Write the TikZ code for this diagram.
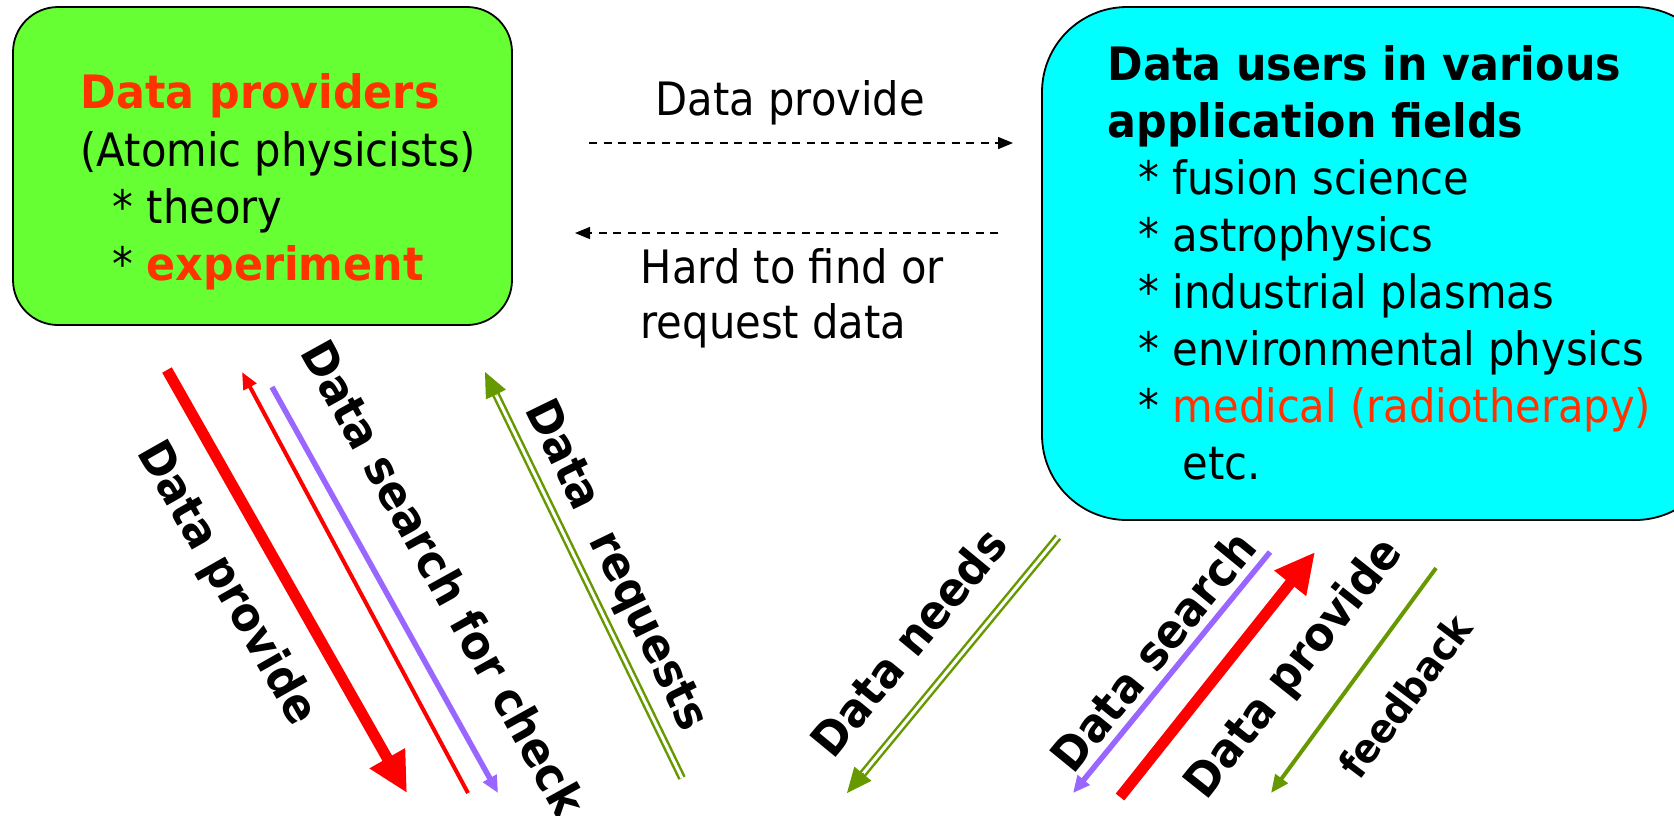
\documentclass[tikz,border=0pt]{standalone}
\usepackage{fontspec}
\setmainfont[FakeStretch=0.905,BoldFeatures={FakeStretch=0.93}]{DejaVu Sans}
\usetikzlibrary{arrows.meta,calc}
\definecolor{boxgreen}{HTML}{66FF33}
\definecolor{boxcyan}{HTML}{00FFFF}
\definecolor{hired}{HTML}{FF3300}
\definecolor{arrred}{HTML}{FF0000}
\definecolor{arrpurple}{HTML}{9966FF}
\definecolor{arrgreen}{HTML}{669900}
\begin{document}
\begin{tikzpicture}[x=0.1mm,y=-0.1mm,
  txt/.style={anchor=base west, inner sep=0pt, font=\fontsize{13.1pt}{15pt}\selectfont},
  rotlab/.style={inner sep=0pt, font=\fontsize{13.3pt}{15pt}\selectfont\bfseries},
  dasharrow/.style={draw=black, line width=0.15mm, dash pattern=on 0.8mm off 0.65mm, -{Triangle[length=1.5mm,width=1.2mm]}},
  thickred/.style={draw=arrred, line width=1.1mm, -{Triangle[length=4mm,width=3.8mm]}},
  thinred/.style={draw=arrred, line width=0.4mm, -{Triangle[length=1.7mm,width=1.4mm]}},
  purplearr/.style={draw=arrpurple, line width=0.55mm, -{Triangle[length=1.7mm,width=1.5mm]}},
  dblgreen/.style={draw=arrgreen, double=white, double distance=0.3mm, line width=0.25mm, shorten >=2mm},
  dbltip/.style={draw=arrgreen, line width=0.1mm, -{Triangle[length=2.5mm,width=2.2mm]}},
  fbgreen/.style={draw=arrgreen, line width=0.4mm, -{Triangle[length=1.8mm,width=1.5mm]}},
  rbox/.style={draw=black, line width=0.18mm, inner sep=0pt}
]
\useasboundingbox (0,0) rectangle (1674,815);
\clip (0,0) rectangle (1674,815);

% boxes
\node[rbox, fill=boxgreen, rounded corners=4.5mm, minimum width=49.9mm, minimum height=31.8mm] (prov) at (262.5,166) {};
\node[rbox, fill=boxcyan, rounded corners=8.5mm, minimum width=67.8mm, minimum height=51.3mm] (users) at (1381,263.5) {};

% provider text
\node[txt, font=\fontsize{13.1pt}{15pt}\selectfont\bfseries, text=hired] (p1) at (80,108) {Data providers};
\node[txt] (p2) at (80,166) {(Atomic physicists)};
\node[txt] (p3) at (112,223) {* theory};
\node[txt] (p4) at (112,280) {* \textcolor{hired}{\bfseries experiment}};

% users text
\node[txt, font=\fontsize{13.1pt}{15pt}\selectfont\bfseries] (u1) at (1107,80) {Data users in various};
\node[txt, font=\fontsize{13.1pt}{15pt}\selectfont\bfseries] (u2) at (1107,137) {application fields};
\node[txt] (u3) at (1138,194) {* fusion science};
\node[txt] (u4) at (1138,251) {* astrophysics};
\node[txt] (u5) at (1138,308) {* industrial plasmas};
\node[txt] (u6) at (1138,365) {* environmental physics};
\node[txt] (u7) at (1138,422) {* \textcolor{hired}{medical (radiotherapy)}};
\node[txt] (u8) at (1182,479) {etc.};

% dashed arrows
\coordinate (dp1) at (589,143);
\coordinate (dp2) at (1013,143);
\coordinate (hr1) at (998,233);
\coordinate (hr2) at (575,233);
\draw[dasharrow] (dp1) -- (dp2);
\draw[dasharrow] (hr1) -- (hr2);
\node[txt] (dpl) at (655,115) {Data provide};
\node[txt] (hrl1) at (640,283) {Hard to find or};
\node[txt] (hrl2) at (640,338) {request data};

% bottom-left arrows
\coordinate (A1s) at (167,370);
\coordinate (A1e) at (407,793);
\coordinate (A2s) at (468,793);
\coordinate (A2e) at (242,372);
\coordinate (A3s) at (272,387);
\coordinate (A3e) at (498,793);
\coordinate (A4s) at (682,778);
\coordinate (A4e) at (485,372);
\draw[thickred] (A1s) -- (A1e);
\draw[thinred] (A2s) -- (A2e);
\draw[purplearr] (A3s) -- (A3e);
\draw[dblgreen] (A4s) -- (A4e);
\draw[dbltip] ($(A4e)!2.6mm!(A4s)$) -- (A4e);

% bottom-right arrows
\coordinate (B1s) at (1058,537);
\coordinate (B1e) at (847,793);
\coordinate (B2s) at (1270,552);
\coordinate (B2e) at (1073,793);
\coordinate (B3s) at (1120,797);
\coordinate (B3e) at (1315,552);
\coordinate (B4s) at (1436,568);
\coordinate (B4e) at (1271,793);
\draw[dblgreen] (B1s) -- (B1e);
\draw[dbltip] ($(B1e)!2.6mm!(B1s)$) -- (B1e);
\draw[purplearr] (B2s) -- (B2e);
\draw[thickred] (B3s) -- (B3e);
\draw[fbgreen] (B4s) -- (B4e);

% rotated labels
\node[rotlab, rotate=-60.4] (lp) at (226,584) {Data provide};
\node[rotlab, rotate=-61] (ls) at (444,578) {Data search for check};
\node[rotlab, rotate=-64] (lr) at (615,566) {Data\ \ requests};
\node[rotlab, rotate=50.5] (rn) at (908,642) {Data needs};
\node[rotlab, rotate=50.7] (rs) at (1153,651) {Data search};
\node[rotlab, rotate=51.5] (rp) at (1295,669) {Data provide};
\node[rotlab, font=\fontsize{11.4pt}{13pt}\selectfont\bfseries, rotate=53] (rf) at (1405,696) {feedback};
\end{tikzpicture}
\end{document}
